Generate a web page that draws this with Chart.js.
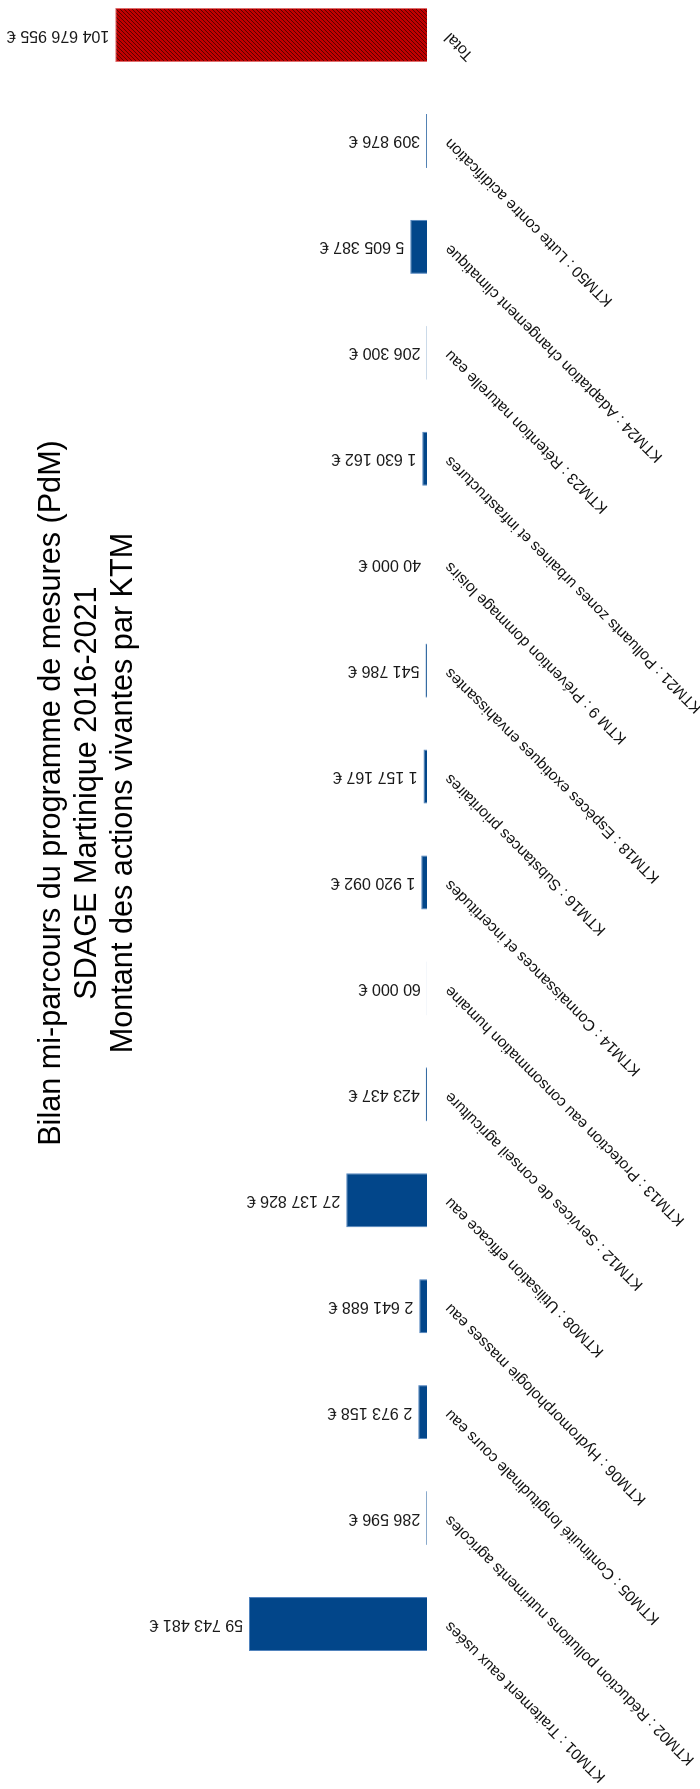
<!DOCTYPE html>
<html lang="fr">
<head>
<meta charset="utf-8">
<title>Bilan mi-parcours du PdM - Martinique</title>
<script src="https://cdn.jsdelivr.net/npm/chart.js@4/dist/chart.umd.min.js"></script>
<style>
  html, body { margin: 0; padding: 0; background: #fff; }
  body { width: 700px; height: 1789px; overflow: hidden; position: relative; }
  /* le graphique est dessiné en colonnes puis tourné d'un quart de tour */
  #wrap {
    position: absolute; left: 0; top: 0;
    width: 1810px; height: 700px;
    transform-origin: 0 0;
    transform: translateY(1789px) rotate(-90deg);
  }
</style>
</head>
<body>
<div id="wrap"><canvas id="ktmChart" width="1810" height="700"></canvas></div>
<script>
// Libellés des KTM (le dernier est le total)
const categories = [
  'KTM01 : Traitement eaux usées',
  'KTM02 : Réduction pollutions nutriments agricoles',
  'KTM05 : Continuité longitudinale cours eau',
  'KTM06 : Hydromorphologie masses eau',
  'KTM08 : Utilisation efficace eau',
  'KTM12 : Services de conseil agriculture',
  'KTM13 : Protection eau consommation humaine',
  'KTM14 : Connaissances et incertitudes',
  'KTM16 : Substances prioritaires',
  'KTM18 : Espèces exotiques envahissantes',
  'KTM 9 : Prévention dommage loisirs',
  'KTM21 : Polluants zones urbaines et infrastructures',
  'KTM23 : Rétention naturelle eau',
  'KTM24 : Adaptation changement climatique',
  'KTM50 : Lutte contre acidification',
  'Total'
];

// Montants des actions vivantes (€)
const montants = [
  59743481, 286596, 2973158, 2641688, 27137826, 423437, 60000, 1920092,
  1157167, 541786, 40000, 1630162, 206300, 5605387, 309876, 104676955
];

const titleLines = [
  'Bilan mi-parcours du programme de mesures (PdM)',
  'SDAGE Martinique 2016-2021',
  'Montant des actions vivantes par KTM'
];

const FONT = '"Liberation Sans", Arial, sans-serif';

// Motif hachuré pour la barre du total
function makeHatch() {
  const c = document.createElement('canvas');
  c.width = 4;
  c.height = 4;
  const g = c.getContext('2d');
  g.fillStyle = '#c00000';
  g.fillRect(0, 0, 4, 4);
  g.strokeStyle = '#5a0000';
  g.lineWidth = 1;
  g.beginPath();
  g.moveTo(0, 4); g.lineTo(4, 0);
  g.moveTo(-1, 1); g.lineTo(1, -1);
  g.moveTo(3, 5); g.lineTo(5, 3);
  g.stroke();
  return g.createPattern(c, 'repeat');
}
const hatch = makeHatch();

function formatEuro(v) {
  return String(v).replace(/\B(?=(\d{3})+(?!\d))/g, ' ') + ' €';
}

// Étiquettes de valeur au-dessus des barres (texte vertical)
const valueLabels = {
  id: 'valueLabels',
  afterDatasetsDraw(chart) {
    const ctx = chart.ctx;
    const meta = chart.getDatasetMeta(0);
    ctx.save();
    ctx.font = '16px ' + FONT;
    ctx.fillStyle = '#1a1a1a';
    ctx.textAlign = 'left';
    ctx.textBaseline = 'middle';
    meta.data.forEach((bar, i) => {
      ctx.save();
      ctx.translate(bar.x, bar.y - 6);
      ctx.rotate(-Math.PI / 2);
      ctx.fillText(formatEuro(montants[i]), 0, 0);
      ctx.restore();
    });
    ctx.restore();
  }
};

// Titre sur trois lignes
const titleBlock = {
  id: 'titleBlock',
  afterDraw(chart) {
    const ctx = chart.ctx;
    ctx.save();
    ctx.font = '30.6px ' + FONT;
    ctx.fillStyle = '#000';
    ctx.textAlign = 'center';
    ctx.textBaseline = 'alphabetic';
    titleLines.forEach((t, i) => {
      ctx.fillText(t, 996, 60 + i * 36);
    });
    ctx.restore();
  }
};

const ctx = document.getElementById('ktmChart').getContext('2d');

new Chart(ctx, {
  type: 'bar',
  data: {
    labels: categories,
    datasets: [{
      label: 'Montant',
      data: montants,
      backgroundColor: categories.map((c, i) => i === categories.length - 1 ? hatch : '#02468a'),
      borderColor: categories.map((c, i) => i === categories.length - 1 ? '#e06a6a' : '#4f82bd'),
      borderWidth: 1,
      barPercentage: 0.51,
      categoryPercentage: 1
    }]
  },
  options: {
    responsive: false,
    animation: false,
    devicePixelRatio: 1,
    layout: { padding: { left: 112, right: 3, top: 10, bottom: 0 } },
    plugins: {
      legend: { display: false },
      title: { display: false },
      tooltip: { enabled: false }
    },
    scales: {
      x: {
        grid: { display: false },
        border: { display: false },
        ticks: {
          autoSkip: false,
          minRotation: 45,
          maxRotation: 45,
          padding: 6,
          color: '#111',
          font: { family: FONT, size: 15.5 }
        },
        afterFit(scale) {
          scale.paddingLeft = 0;
          scale.paddingRight = 0;
          scale.height = 273;
        }
      },
      y: {
        display: false,
        min: 0,
        max: 140000000
      }
    }
  },
  plugins: [valueLabels, titleBlock]
});
</script>
</body>
</html>
